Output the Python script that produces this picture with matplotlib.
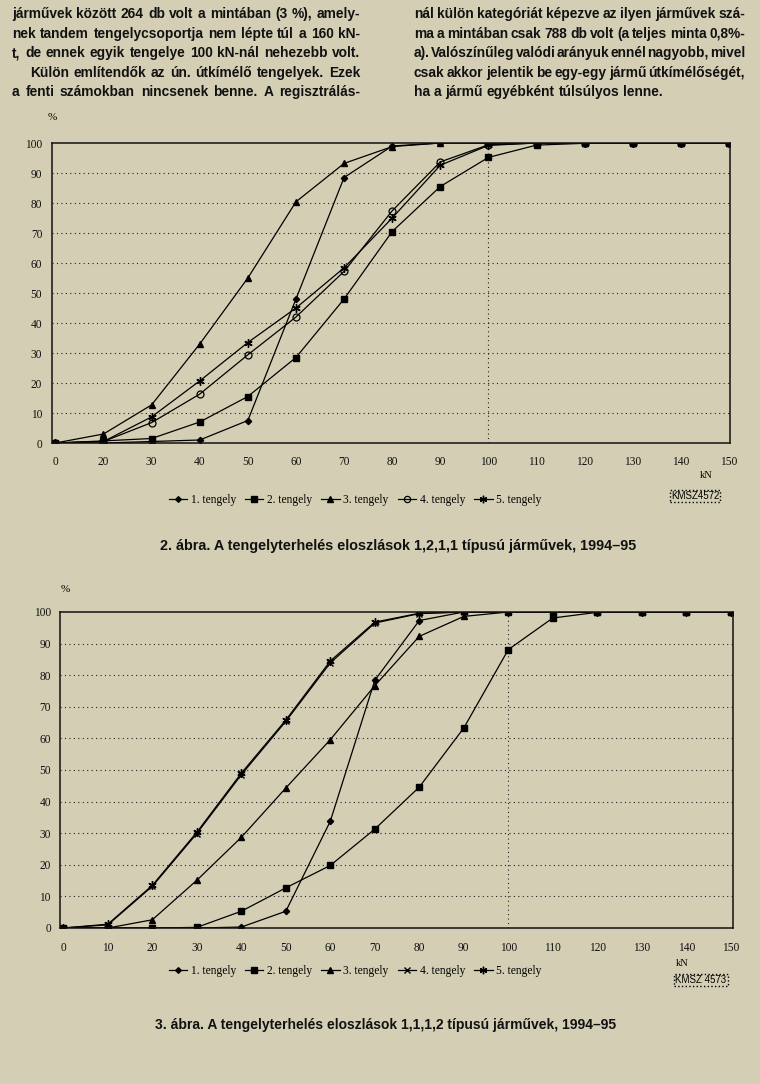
import numpy as np
import matplotlib
matplotlib.use("Agg")
import matplotlib.pyplot as plt

# ---------------- data ----------------
cats1 = ['0', '20', '30', '40', '50', '60', '70', '80', '90', '100',
         '110', '120', '130', '140', '150']
c1_s1 = [0, 0, 0.5, 1, 7.5, 48, 88.5, 99, 100, 100, 100, 100, 100, 100, 100]
c1_s2 = [0, 0.7, 1.5, 7, 15.5, 28.5, 48, 70.5, 85.5, 95.2, 99.3, 99.9, 100, 100, 100]
c1_s3 = [0, 3, 12.7, 33, 55, 80.4, 93.2, 98.8, 100, 100, 100, 100, 100, 100, 100]
c1_s4 = [0, 0.5, 6.8, 16.3, 29.4, 42, 57.2, 77.4, 93.7, 99.4, 100, 100, 100, 100, 100]
c1_s5 = [0, 0.5, 8.7, 20.7, 33.5, 45, 58.4, 75, 92.6, 99.2, 100, 100, 100, 100, 100]

cats2 = ['0', '10', '20', '30', '40', '50', '60', '70', '80', '90', '100',
         '110', '120', '130', '140', '150']
c2_s1 = [0, 0, 0, 0, 0.3, 5.3, 33.8, 78.4, 97.3, 100, 100, 100, 100, 100, 100, 100]
c2_s2 = [0, 0, 0, 0.2, 5.3, 12.7, 19.8, 31.3, 44.6, 63.3, 88.1, 98.1, 99.9, 100, 100, 100]
c2_s3 = [0, 0, 2.6, 15.1, 28.7, 44.3, 59.6, 76.7, 92.3, 98.6, 100, 100, 100, 100, 100, 100]
c2_s4 = [0, 1, 13.2, 29.9, 48.5, 65.4, 83.9, 96.5, 99.5, 100, 100, 100, 100, 100, 100, 100]
c2_s5 = [0, 1.2, 13.5, 30.3, 49.0, 65.8, 84.5, 96.8, 99.6, 100, 100, 100, 100, 100, 100, 100]

series_names = ['1. tengely', '2. tengely', '3. tengely', '4. tengely', '5. tengely']
yticks = [0, 10, 20, 30, 40, 50, 60, 70, 80, 90, 100]

left_lines = [
    "járművek között 264 db volt a mintában (3 %), amely-",
    "nek tandem tengelycsoportja nem lépte túl a 160 kN-",
    "t, de ennek egyik tengelye 100 kN-nál nehezebb volt.",
    "Külön említendők az ún. útkímélő tengelyek. Ezek",
    "a fenti számokban nincsenek benne. A regisztrálás-",
]
right_lines = [
    "nál külön kategóriát képezve az ilyen járművek szá-",
    "ma a mintában csak 788 db volt (a teljes minta 0,8%-",
    "a). Valószínűleg valódi arányuk ennél nagyobb, mivel",
    "csak akkor jelentik be egy-egy jármű útkímélőségét,",
    "ha a jármű egyébként túlsúlyos lenne.",
]
caption1 = "2. ábra. A tengelyterhelés eloszlások 1,2,1,1 típusú járművek, 1994–95"
caption2 = "3. ábra. A tengelyterhelés eloszlások 1,1,1,2 típusú járművek, 1994–95"
code1 = "KMSZ4572"
code2 = "KMSZ 4573"

# ---------------- style ----------------
BG = '#d4cfb4'
W, H = 760, 1084
SERIF = ['Liberation Serif', 'DejaVu Serif']
SANS = ['Liberation Sans', 'DejaVu Sans']

fig = plt.figure(figsize=(W / 100, H / 100), dpi=100, facecolor=BG)
renderer = fig.canvas.get_renderer()


def fx(px):
    return px / W


def fy(py):
    return 1 - py / H


def justified(line, x0, x1, ybase, size, just=True):
    words = line.split()
    props = dict(fontsize=size, fontweight='bold', family=SANS, va='baseline', ha='left',
                 color='#111111')
    objs = [fig.text(0, fy(ybase), w, **props) for w in words]
    widths = [o.get_window_extent(renderer).width for o in objs]
    t1 = fig.text(0, 0, 'a a', **props)
    t2 = fig.text(0, 0, 'aa', **props)
    sp = t1.get_window_extent(renderer).width - t2.get_window_extent(renderer).width
    t1.remove()
    t2.remove()
    if just and len(words) > 1:
        gap = (x1 - x0 - sum(widths)) / (len(words) - 1)
    else:
        gap = sp
    x = x0
    for o, w in zip(objs, widths):
        o.set_x(fx(x))
        x += w + gap


baselines = [18, 38, 57, 77, 96]
for i, ln in enumerate(left_lines):
    x0 = 30 if i == 3 else 12
    justified(ln, x0, 360, baselines[i], 9.9)
for i, ln in enumerate(right_lines):
    justified(ln, 414, 745, baselines[i], 9.9, just=(i < 4))


def draw_chart(rect, cats, data, markers4, xlim, ypad, xpad):
    ax = fig.add_axes(rect)
    ax.set_facecolor(BG)
    x = np.arange(len(cats))
    styles = [
        dict(marker='D', ms=3.2, mfc='black', mec='black'),
        dict(marker='s', ms=4.2, mfc='black', mec='black'),
        dict(marker='^', ms=4.5, mfc='black', mec='black'),
        markers4,
        dict(marker=(6, 2, 0), ms=6, mfc='black', mec='black', mew=1.0),
    ]
    handles = []
    for vals, st, name in zip(data, styles, series_names):
        h, = ax.plot(x, vals, color='black', lw=0.9, label=name, **st)
        handles.append(h)
    ax.set_xlim(*xlim)
    ax.set_ylim(0, 100)
    ax.set_yticks(yticks)
    ax.set_yticklabels([str(v) for v in yticks], family=SERIF, fontsize=8.3)
    ax.set_xticks(x)
    ax.set_xticklabels(cats, family=SERIF, fontsize=8.3)
    ax.tick_params(axis='y', length=0, pad=ypad, colors='#111111')
    ax.tick_params(axis='x', length=0, pad=xpad, colors='#111111')
    for v in yticks[1:-1]:
        ax.axhline(v, color='#222222', lw=0.8, ls=(0, (1, 3)), zorder=0)
    ax.axvline(cats.index('100'), color='#222222', lw=0.8, ls=(0, (1, 3)), zorder=0)
    for s in ax.spines.values():
        s.set_color('#111111')
        s.set_linewidth(1.1)
    return ax, handles


# chart 1
ax1, h1 = draw_chart([fx(52), fy(443), fx(730) - fx(52), fy(143) - fy(443)],
                     cats1, [c1_s1, c1_s2, c1_s3, c1_s4, c1_s5],
                     dict(marker='o', ms=5, mfc='none', mec='black', mew=0.9),
                     (-0.07, 14.02), 7, 9.5)
# chart 2
ax2, h2 = draw_chart([fx(60), fy(928), fx(733) - fx(60), fy(612) - fy(928)],
                     cats2, [c2_s1, c2_s2, c2_s3, c2_s4, c2_s5],
                     dict(marker='x', ms=5, mfc='black', mec='black', mew=1.0),
                     (-0.075, 15.05), 6.5, 10)

for hs, yc in ((h1, 500), (h2, 971)):
    fig.legend(handles=hs, labels=series_names, loc='center', bbox_to_anchor=(fx(355), fy(yc)),
               ncol=5, frameon=False, handlelength=1.6, handletextpad=0.3, columnspacing=0.8,
               prop=dict(family=SERIF, size=8.3), markerscale=0.9)

# axis unit labels
fig.text(fx(52), fy(118), '%', family=SERIF, fontsize=8, ha='center', va='center')
fig.text(fx(65), fy(590), '%', family=SERIF, fontsize=8, ha='center', va='center')
fig.text(fx(706), fy(476), 'kN', family=SERIF, fontsize=7.5, ha='center', va='center')
fig.text(fx(682), fy(963), 'kN', family=SERIF, fontsize=7.5, ha='center', va='center')

for code, xc, yc in ((code1, 695, 496), (code2, 701, 980)):
    fig.text(fx(xc), fy(yc), code, family=SANS, fontsize=7, ha='center', va='center',
             bbox=dict(boxstyle='square,pad=0.12', fc=BG, ec='black', lw=1.0, ls=':'))

fig.text(fx(398), fy(546), caption1, family=SANS,
         fontweight='bold', fontsize=10.4, ha='center', va='center', color='#111111')
fig.text(fx(386), fy(1025), caption2, family=SANS,
         fontweight='bold', fontsize=10.0, ha='center', va='center', color='#111111')

fig.savefig('out.png', dpi=100, facecolor=BG)
